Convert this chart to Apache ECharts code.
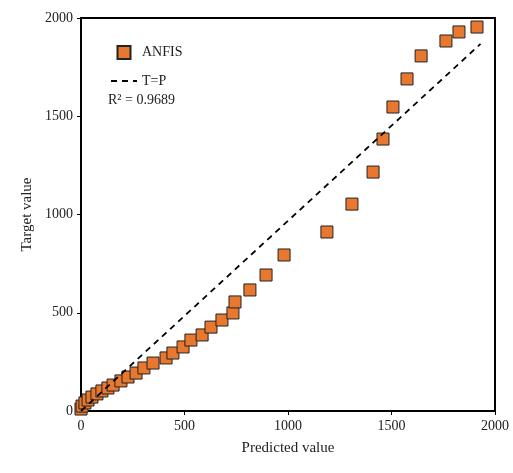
<!DOCTYPE html>
<html><head><meta charset="utf-8">
<script src="https://cdn.jsdelivr.net/npm/echarts@6/dist/echarts.min.js"></script>
<style>html,body{margin:0;padding:0;background:#fff}#c{width:513px;height:473px}</style>
</head><body><div id="c"></div>
<script>
// ANFIS predicted vs target
const predicted = [0, 5, 19, 34, 53, 77, 101, 130, 155, 193, 227, 266, 304, 348, 411, 444, 493, 531, 585, 628, 681, 734, 744,
  981, 1188, 1309, 1411, 1459, 1507, 1575, 1643, 1763, 1826, 1913, 816, 894];
const target = [10, 25, 41, 56, 71, 87, 102, 117, 132, 153, 173, 193, 219, 244, 270, 295, 326, 361, 387, 427, 463, 499, 555,
  794, 911, 1053, 1216, 1384, 1547, 1690, 1807, 1883, 1929, 1954, 616, 692];
const fitLine = [[0, 0], [1930, 1868]];

const font = 'Liberation Serif';
const chart = echarts.init(document.getElementById('c'));
const axisCommon = {
  min: 0, max: 2000, interval: 500,
  axisLine: { show: true, onZero: false, lineStyle: { color: '#000', width: 2 } },
  axisTick: { show: true, length: 4, lineStyle: { color: '#000' } },
  splitLine: { show: false },
  axisLabel: { color: '#222', fontFamily: font, fontSize: 14, formatter: v => String(v) },
  nameTextStyle: { color: '#222', fontFamily: font, fontSize: 15 }
};
const mirror = { min: 0, max: 2000, axisLine: { show: true, onZero: false, lineStyle: { color: '#000', width: 2 } },
  axisTick: { show: false }, axisLabel: { show: false }, splitLine: { show: false } };

chart.setOption({
  animation: false,
  grid: { left: 81, right: 18, top: 18, bottom: 62 },
  xAxis: [Object.assign({ type: 'value', name: 'Predicted value', nameLocation: 'middle', nameGap: 30 }, axisCommon),
          Object.assign({ type: 'value', position: 'top' }, mirror)],
  yAxis: [Object.assign({ type: 'value', name: 'Target value', nameLocation: 'middle', nameGap: 46 }, axisCommon),
          Object.assign({ type: 'value', position: 'right' }, mirror)],
  legend: {
    left: 105, top: 40, orient: 'vertical', itemGap: 14, itemWidth: 26, itemHeight: 13,
    textStyle: { fontFamily: font, fontSize: 14, color: '#222' },
    data: [{ name: 'ANFIS', icon: 'path://M0,0h10v10h-10z' }, { name: 'T=P', itemStyle: { opacity: 0 } }]
  },
  graphic: [{ type: 'text', left: 108, top: 93,
    style: { text: 'R² = 0.9689', font: '14px "Liberation Serif"', fill: '#222' } }],
  series: [
    { name: 'T=P', type: 'line', data: fitLine, symbol: 'none',
      lineStyle: { color: '#000', type: [6, 5], width: 1.8 }, itemStyle: { color: '#000' } },
    { name: 'ANFIS', type: 'scatter', symbol: 'rect', symbolSize: 12,
      data: predicted.map((p, i) => [p, target[i]]),
      itemStyle: { color: '#E8782F', opacity: 1, borderColor: '#222', borderWidth: 1 } }
  ]
});
</script></body></html>
